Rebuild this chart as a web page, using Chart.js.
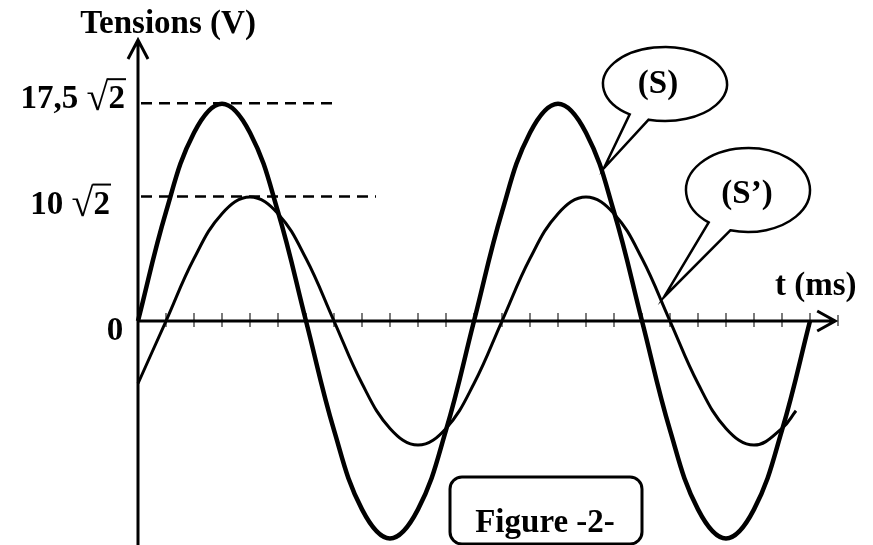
<!DOCTYPE html>
<html>
<head>
<meta charset="utf-8">
<script src="https://cdn.jsdelivr.net/npm/chart.js@4.4.1/dist/chart.umd.min.js"></script>
<style>
  html, body { margin: 0; padding: 0; background: #fff; }
  #wrap { width: 873px; height: 545px; }
</style>
</head>
<body>
<div id="wrap"><canvas id="c" width="873" height="545"></canvas></div>
<script>
// time axis in tick units (one tick = one graduation of t)
const tS  = [0, 1, 2, 3, 4, 5, 6, 7, 8, 9, 10, 11, 12, 13, 14, 15, 16, 17, 18, 19, 20, 21, 22, 23, 24];
// (S) : thick curve, amplitude 17,5 √2 V
const vS  = [0, 12.4, 21.4, 24.7, 21.4, 12.4, 0, -12.4, -21.4, -24.7, -21.4, -12.4, 0,
             12.4, 21.4, 24.7, 21.4, 12.4, 0, -12.4, -21.4, -24.7, -21.4, -12.4, 0];
// (S') : thin curve, amplitude 10 √2 V
const tS2 = [0, 1, 2, 3, 4, 5, 6, 7, 8, 9, 10, 11, 12, 13, 14, 15, 16, 17, 18, 19, 20, 21, 22, 23, 23.5];
const vS2 = [-7.1, 0, 7.1, 12.2, 14.1, 12.2, 7.1, 0, -7.1, -12.2, -14.1, -12.2, -7.1,
             0, 7.1, 12.2, 14.1, 12.2, 7.1, 0, -7.1, -12.2, -14.1, -12.2, -10.2];
const xTicks = [1, 2, 3, 4, 5, 6, 7, 8, 9, 10, 11, 12, 13, 14, 15, 16, 17, 18, 19, 20, 21, 22, 23, 24];
const levels = [24.75, 14.14];          // 17,5 √2 and 10 √2
const levelLabels = ['17,5 ', '10 '];
const levelEnds = [7, 8.5];              // where the dashed guides stop (t)

const F = 'bold 33px "Liberation Serif", "Times New Roman", serif';
const FR = 'bold 40px "Liberation Serif", "Times New Roman", serif';

function rootLabel(ctx, prefix, right, base) {
  ctx.textAlign = 'left';
  ctx.textBaseline = 'alphabetic';
  ctx.font = F;
  const w2 = ctx.measureText('2').width;
  const wp = ctx.measureText(prefix).width;
  const x2 = right - w2;
  ctx.fillText('2', x2, base);
  ctx.font = FR;
  const m = ctx.measureText('√');
  ctx.fillText('√', x2 - m.width, base + 2);
  ctx.font = F;
  ctx.fillText(prefix, x2 - m.width - wp, base);
  ctx.lineWidth = 2;
  const yl = base + 2 - m.actualBoundingBoxAscent + 1;
  ctx.beginPath();
  ctx.moveTo(x2 - 1, yl);
  ctx.lineTo(right + 1, yl);
  ctx.stroke();
}

function bubble(ctx, b) {
  const a1 = Math.atan2((b.p1[1] - b.cy) / b.ry, (b.p1[0] - b.cx) / b.rx);
  const a2 = Math.atan2((b.p2[1] - b.cy) / b.ry, (b.p2[0] - b.cx) / b.rx);
  ctx.beginPath();
  ctx.ellipse(b.cx, b.cy, b.rx, b.ry, 0, a1, a2 + 2 * Math.PI);
  ctx.lineTo(b.tip[0], b.tip[1]);
  ctx.closePath();
  ctx.fillStyle = '#fff';
  ctx.fill();
  ctx.lineWidth = 2.5;
  ctx.strokeStyle = '#000';
  ctx.stroke();
  ctx.fillStyle = '#000';
  ctx.font = F;
  ctx.textAlign = 'center';
  ctx.textBaseline = 'middle';
  ctx.fillText(b.text, b.tx, b.ty);
}

const sketch = {
  id: 'sketch',
  beforeDatasetsDraw(chart) {
    const ctx = chart.ctx;
    const xs = chart.scales.x, ys = chart.scales.y;
    const x0 = xs.getPixelForValue(0), y0 = ys.getPixelForValue(0);
    ctx.save();
    ctx.strokeStyle = '#000';
    ctx.lineCap = 'butt';

    // dashed guide lines
    ctx.lineWidth = 2.5;
    ctx.setLineDash([11, 7]);
    levels.forEach((v, i) => {
      const y = ys.getPixelForValue(v);
      ctx.beginPath();
      ctx.moveTo(x0 + 3, y);
      ctx.lineTo(xs.getPixelForValue(levelEnds[i]), y);
      ctx.stroke();
    });
    ctx.setLineDash([]);

    // ticks on the t axis
    ctx.lineWidth = 1.2;
    ctx.strokeStyle = '#222';
    xTicks.forEach(k => {
      const x = xs.getPixelForValue(k);
      ctx.beginPath();
      ctx.moveTo(x, y0 - 8);
      ctx.lineTo(x, y0 + 6);
      ctx.stroke();
    });
    const xe = xs.getPixelForValue(25);
    ctx.beginPath();
    ctx.moveTo(xe, y0 - 6);
    ctx.lineTo(xe, y0 + 5);
    ctx.stroke();

    // axes with open arrow heads
    ctx.strokeStyle = '#000';
    ctx.lineWidth = 3;
    const xt = xs.getPixelForValue(24.9);
    ctx.beginPath();
    ctx.moveTo(x0, y0);
    ctx.lineTo(xt, y0);
    ctx.moveTo(xt - 18, y0 - 10);
    ctx.lineTo(xt, y0);
    ctx.lineTo(xt - 18, y0 + 10);
    ctx.stroke();

    const yt = chart.chartArea.top;
    ctx.beginPath();
    ctx.moveTo(x0, chart.chartArea.bottom);
    ctx.lineTo(x0, yt);
    ctx.moveTo(x0 - 10, yt + 19);
    ctx.lineTo(x0, yt);
    ctx.lineTo(x0 + 10, yt + 19);
    ctx.stroke();
    ctx.restore();
  },
  afterDatasetsDraw(chart) {
    const ctx = chart.ctx;
    const ys = chart.scales.y;
    ctx.save();
    ctx.fillStyle = '#000';
    ctx.strokeStyle = '#000';

    ctx.font = F;
    ctx.textBaseline = 'alphabetic';
    ctx.textAlign = 'center';
    ctx.fillText('Tensions (V)', 168, 33);
    ctx.fillText('0', 115, 340);
    ctx.textAlign = 'left';
    ctx.fillText('t (ms)', 775, 295);

    rootLabel(ctx, levelLabels[0], 125, ys.getPixelForValue(levels[0]) + 5);
    rootLabel(ctx, levelLabels[1], 110, ys.getPixelForValue(levels[1]) + 17);

    bubble(ctx, { cx: 665, cy: 84, rx: 62, ry: 37, p1: [629, 115], p2: [648, 121], tip: [604, 168],
                  text: '(S)', tx: 658, ty: 84 });
    bubble(ctx, { cx: 748, cy: 190, rx: 62, ry: 42, p1: [708, 223], p2: [730, 231], tip: [664, 297],
                  text: '(S’)', tx: 747, ty: 194 });

    // caption box
    ctx.lineWidth = 3;
    ctx.beginPath();
    ctx.roundRect(450, 477, 192, 67, 12);
    ctx.fillStyle = '#fff';
    ctx.fill();
    ctx.stroke();
    ctx.fillStyle = '#000';
    ctx.font = F;
    ctx.textAlign = 'center';
    ctx.fillText('Figure -2-', 545, 523);
    ctx.restore();
  }
};

new Chart(document.getElementById('c'), {
  type: 'line',
  data: {
    datasets: [
      { label: '(S)',  data: tS.map((t, i) => ({ x: t, y: vS[i] })),
        borderColor: '#000', borderWidth: 4.5, pointRadius: 0, tension: 0.4, fill: false, clip: false },
      { label: "(S')", data: tS2.map((t, i) => ({ x: t, y: vS2[i] })),
        borderColor: '#000', borderWidth: 3, pointRadius: 0, tension: 0.4, fill: false, clip: false }
    ]
  },
  options: {
    responsive: false,
    devicePixelRatio: 1,
    animation: false,
    layout: { padding: { left: 138, right: 7, top: 40, bottom: 0 } },
    plugins: { legend: { display: false }, tooltip: { enabled: false } },
    scales: {
      x: { type: 'linear', min: 0, max: 26, display: false },
      y: { min: -25.45, max: 31.93, display: false }
    }
  },
  plugins: [sketch]
});
</script>
</body>
</html>
